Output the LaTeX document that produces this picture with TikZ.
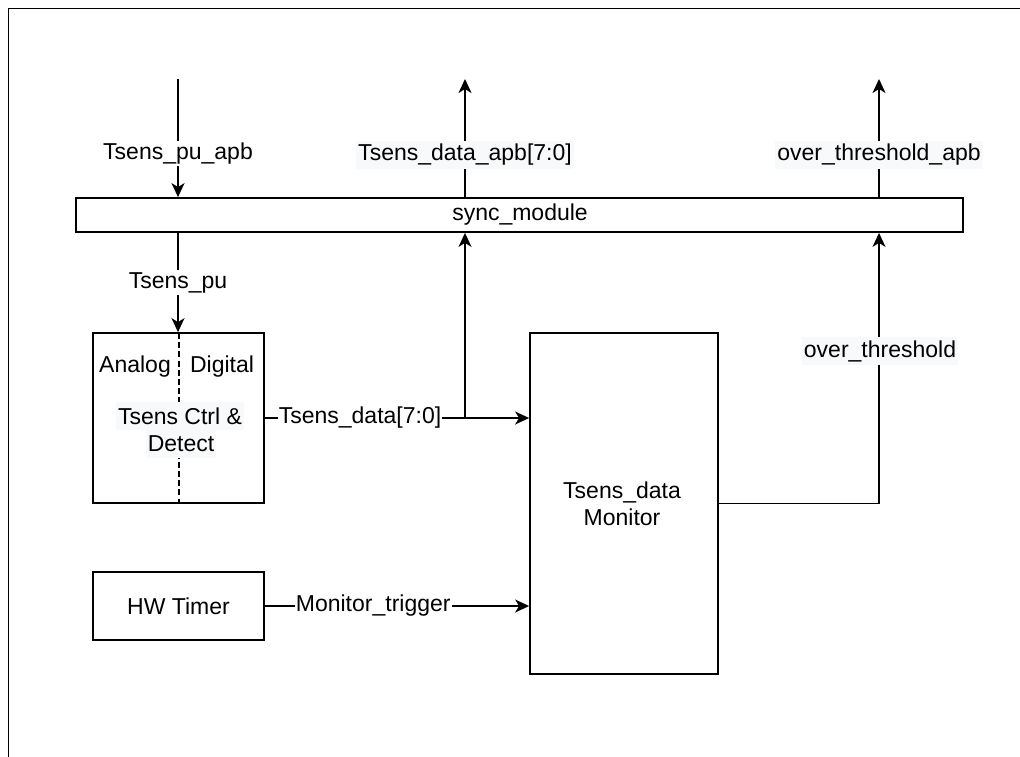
\documentclass[tikz,border=0pt]{standalone}
\usepackage{fontspec}
\setmainfont{Liberation Sans}
\usetikzlibrary{arrows.meta}
\definecolor{lblbg}{HTML}{F8F9FA}
\begin{document}
\begin{tikzpicture}[x=0.5pt,y=-0.5pt,
  every node/.style={font=\fontsize{11.5pt}{13.5pt}\selectfont, text=black},
  blk/.style={draw=black, line width=0.9pt, fill=white, rectangle, inner sep=0pt},
  conn/.style={draw=black, line width=0.9pt},
  arr/.style={conn, -{Stealth[length=7pt,width=6.5pt,inset=2pt]}},
  lblw/.style={fill=white, inner xsep=0.5pt, inner ysep=1pt},
  lblg/.style={fill=lblbg, inner xsep=1pt, inner ysep=0pt, minimum height=14pt}]
\path[use as bounding box, clip] (0,0) rectangle (1020,756);
\fill[white] (0,0) rectangle (1020,756);
\draw[line width=0.9pt] (8.5,8.5) rectangle (1060,790);

% blocks
\node[blk, minimum width=443.5pt, minimum height=17pt] (sync) at (519.5,215) {};
\node (synct) at (520,215) {sync\_module};
\node[blk, minimum width=85.5pt, minimum height=85pt] (adc) at (178.5,418) {};
\node[blk, minimum width=94pt, minimum height=170.5pt] (mon) at (624,503.5) {};
\node[align=center] (mont) at (622,504) {Tsens\_data\\Monitor};
\node[blk, minimum width=85.5pt, minimum height=34pt] (timer) at (178.5,606) {HW Timer};

% inside analog/digital block
\coordinate (dtop) at (179,333);
\coordinate (dbot) at (179,503);
\draw[conn, dash pattern=on 3pt off 1.6pt] (dtop) -- (dbot);
\node (analog) at (135,367) {Analog};
\node (digital) at (222,367) {Digital};
\node[lblg] (ctrl) at (180,416) {Tsens Ctrl \&};
\node[lblg] (detect) at (181,444) {Detect};

% top inputs / outputs
\coordinate (pin) at (178,79);
\coordinate (dout) at (465,79);
\coordinate (oout) at (879,79);
\draw[arr] (pin) -- node[lblw, pos=0.63] (lpin) {Tsens\_pu\_apb} (pin |- sync.north);
\draw[arr] (dout |- sync.north) -- node[lblg, pos=0.36] (ldout) {Tsens\_data\_apb[7:0]} (dout);
\draw[arr] (oout |- sync.north) -- node[lblg, pos=0.36] (loout) {over\_threshold\_apb} (oout);

% Tsens_pu
\draw[arr] (pin |- sync.south) -- node[lblw, pos=0.5] (lpu) {Tsens\_pu} (pin |- adc.north);

% Tsens_data
\coordinate (br) at (465,418);
\draw[arr] (br) -- (br |- sync.south);
\draw[arr] (adc.east) -- node[lblw, pos=0.36] (ldata) {Tsens\_data[7:0]} (adc.east -| mon.west);

% over_threshold
\coordinate (ot) at (879,503.5);
\draw[arr] (mon.east) -- (ot) -- (ot |- sync.south);
\node[lblg] (lot) at (880,351) {over\_threshold};

% Monitor_trigger
\draw[arr] (timer.east) -- node[lblw, pos=0.41] (ltrig) {Monitor\_trigger} (timer.east -| mon.west);
\end{tikzpicture}
\end{document}
